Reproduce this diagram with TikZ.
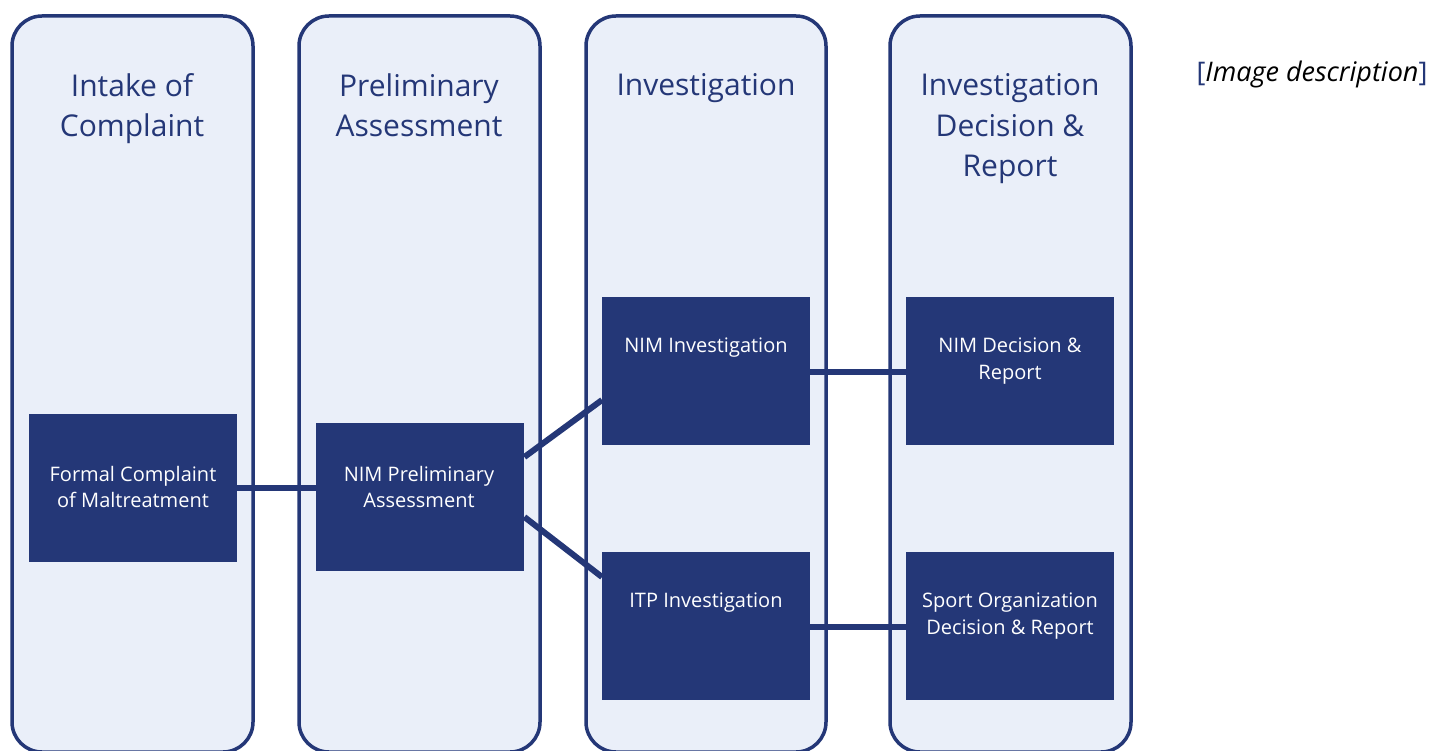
\documentclass[tikz,border=0pt]{standalone}
\usepackage{fontspec}
\setmainfont{Open Sans}
\definecolor{navy}{HTML}{243777}
\definecolor{lane}{HTML}{EAEFF9}
\begin{document}
\begin{tikzpicture}[x=1pt,y=-1pt,
  lanebox/.style={draw=navy,fill=lane,line width=3.5pt,rounded corners=30pt},
  title/.style={text=navy,align=center,font=\fontsize{30}{40.5}\selectfont,anchor=north},
  stepbox/.style={fill=navy,minimum width=208pt,minimum height=148pt,anchor=north west,inner sep=0pt},
  steptext/.style={text=white,align=center,font=\fontsize{20}{26.5}\selectfont},
  conn/.style={draw=navy,line width=6pt}]
\useasboundingbox (0,0) rectangle (1433,751);
% lanes
\draw[lanebox] (12,16) rectangle (253,752);
\draw[lanebox] (299,16) rectangle (540,752);
\draw[lanebox] (586,16) rectangle (826,752);
\draw[lanebox] (890,16) rectangle (1131,752);
% titles
\node[title] (t1) at (132,70) {Intake of\\Complaint};
\node[title] (t2) at (419,70) {Preliminary\\Assessment};
\node[title] (t3) at (706,70) {Investigation};
\node[title] (t4) at (1010,70) {Investigation\\Decision \&\\Report};
% step boxes
\node[stepbox] (b1) at (29,414) {};
\node[stepbox] (b2) at (316,423) {};
\node[stepbox] (b3) at (602,297) {};
\node[stepbox] (b4) at (602,552) {};
\node[stepbox] (b5) at (906,297) {};
\node[stepbox] (b6) at (906,552) {};
\node[steptext] (s1) at (133,487) {Formal Complaint\\of Maltreatment};
\node[steptext] (s2) at (419,487) {NIM Preliminary\\Assessment};
\node[steptext] (s3) at (706,348) {NIM Investigation};
\node[steptext] (s4) at (706,603) {ITP Investigation};
\node[steptext] (s5) at (1010,361) {NIM Decision \&\\Report};
\node[steptext] (s6) at (1010,616) {Sport Organization\\Decision \& Report};
% connectors
\draw[conn] (b1.east |- 0,488) -- (b2.west |- 0,488);
\draw[conn] ([yshift=-34pt]b2.north east) -- ([yshift=-103pt]b3.north west);
\draw[conn] ([yshift=-94pt]b2.north east) -- ([yshift=-25pt]b4.north west);
\draw[conn] (b3.east |- 0,372) -- (b5.west |- 0,372);
\draw[conn] (b4.east |- 0,627) -- (b6.west |- 0,627);
% note
\node[font=\fontsize{27}{30}\selectfont\itshape] (note) at (1312,74) {\textcolor{navy}{\upshape[}Image description\textcolor{navy}{\upshape]}};
\end{tikzpicture}
\end{document}
